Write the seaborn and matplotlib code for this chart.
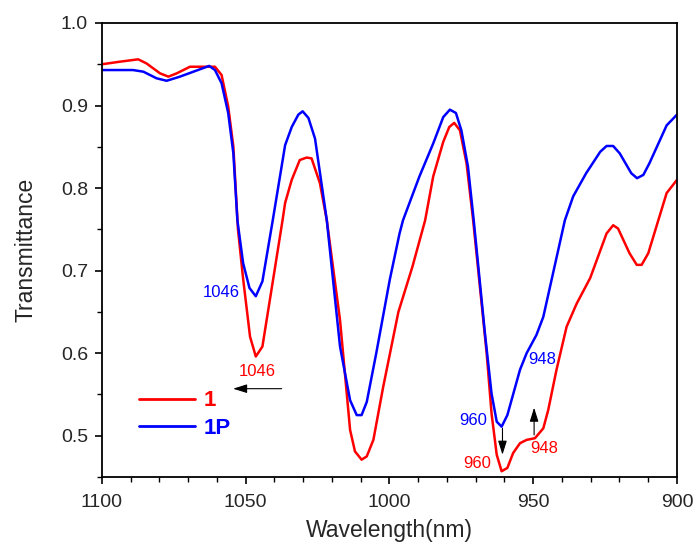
import pandas as pd
import matplotlib.pyplot as plt
import seaborn as sns

# Spectrum data
red_wl = [1100, 1094, 1087.4, 1084.5, 1079.8, 1076.9, 1074, 1069.4, 1065.9, 1060.7,
          1058.4, 1056.1, 1054.3, 1052.7, 1050.9, 1048.5, 1046.5, 1044.2, 1039.8, 1037.2,
          1036.3, 1034, 1031.2, 1028.8, 1027.1, 1024.2, 1021.8, 1017.2, 1013.7, 1012,
          1009.7, 1007.9, 1005.6, 1002.2, 996.9, 992, 987.6, 984.8, 981.3, 979.2,
          977.5, 975.5, 973.2, 970.9, 966.2, 964.5, 962.7, 961, 959, 957,
          954.6, 952.3, 949.4, 946.5, 944.8, 941.9, 938.4, 934.9, 930.2, 924.5,
          922.2, 920.5, 916.5, 914, 912.3, 910, 906.5, 903.6, 900]
red_t = [0.950, 0.953, 0.956, 0.951, 0.939, 0.935, 0.939, 0.947, 0.947, 0.947,
         0.937, 0.899, 0.850, 0.750, 0.690, 0.620, 0.596, 0.608, 0.704, 0.761,
         0.782, 0.810, 0.834, 0.837, 0.836, 0.806, 0.761, 0.640, 0.507, 0.481,
         0.471, 0.475, 0.495, 0.559, 0.650, 0.705, 0.761, 0.814, 0.856, 0.874,
         0.879, 0.870, 0.830, 0.761, 0.600, 0.527, 0.477, 0.457, 0.461, 0.479,
         0.491, 0.495, 0.497, 0.509, 0.531, 0.580, 0.632, 0.660, 0.691, 0.745,
         0.755, 0.751, 0.721, 0.707, 0.707, 0.721, 0.761, 0.794, 0.810]

blue_wl = [1100, 1089.2, 1085.6, 1081, 1077.5, 1072.9, 1068.2, 1062.7, 1060.7, 1058.4,
           1056.1, 1054.3, 1052.9, 1050.9, 1048.7, 1046.5, 1044.2, 1040.6, 1036.3, 1034,
           1031.7, 1030.2, 1028.2, 1025.9, 1021.8, 1017.2, 1013.7, 1011.4, 1009.7, 1007.9,
           1004.6, 999.9, 996.5, 995.3, 989.6, 984.8, 981.3, 979, 976.9, 975,
           972.7, 970.7, 966.8, 964.5, 962.7, 961, 959, 954.6, 952.3, 948.9,
           946.5, 943.1, 939, 936.1, 931.6, 926.7, 924.5, 922.2, 919.9, 915.9,
           913.9, 911.7, 909.6, 903.6, 900]
blue_t = [0.943, 0.943, 0.941, 0.933, 0.930, 0.935, 0.941, 0.948, 0.943, 0.927,
          0.891, 0.842, 0.761, 0.709, 0.679, 0.669, 0.687, 0.761, 0.852, 0.874,
          0.889, 0.893, 0.885, 0.860, 0.761, 0.608, 0.543, 0.525, 0.525, 0.541,
          0.600, 0.689, 0.745, 0.761, 0.814, 0.854, 0.886, 0.895, 0.891, 0.870,
          0.826, 0.761, 0.624, 0.551, 0.517, 0.511, 0.525, 0.580, 0.600, 0.622,
          0.644, 0.697, 0.761, 0.790, 0.818, 0.844, 0.851, 0.851, 0.842, 0.818,
          0.812, 0.816, 0.830, 0.876, 0.889]

sample_names = ['1', '1P']
line_colors = ['#FF0000', '#0000FF']

df = pd.concat([
    pd.DataFrame({'wavelength': red_wl, 'T': red_t, 'sample': '1'}),
    pd.DataFrame({'wavelength': blue_wl, 'T': blue_t, 'sample': '1P'}),
])

sns.set_theme(style='ticks')
plt.rcParams['font.family'] = ['Liberation Sans', 'DejaVu Sans']

fig = plt.figure(figsize=(6.97, 5.5), dpi=100)
ax = fig.add_axes([0.1463, 0.1327, 0.825, 0.8255])

sns.lineplot(data=df, x='wavelength', y='T', hue='sample', hue_order=sample_names,
             palette=dict(zip(sample_names, line_colors)), linewidth=1.8,
             estimator=None, sort=False, ax=ax)

ax.set_xlim(1100, 900)
ax.set_ylim(0.45, 1.0)
ax.set_xticks([1100, 1050, 1000, 950, 900])
ax.set_xticks(range(900, 1101, 10), minor=True)
ax.set_yticks([0.5, 0.6, 0.7, 0.8, 0.9, 1.0])
ax.set_yticks([0.45 + 0.05 * i for i in range(12)], minor=True)
ax.tick_params(which='major', direction='out', length=5, width=1.2, labelsize=14, color='black')
ax.tick_params(which='minor', direction='out', length=3.5, width=1.0, color='black')
ax.tick_params(axis='x', which='major', pad=7)
ax.tick_params(axis='y', which='major', pad=5)
for s in ax.spines.values():
    s.set_linewidth(1.3)
    s.set_color('black')

ax.set_xlabel('Wavelength(nm)', fontsize=16.5, labelpad=6)
ax.set_ylabel('Transmittance', fontsize=16.5, labelpad=17)

# peak labels
ax.text(1052, 0.673, '1046', color='blue', fontsize=12, ha='right', va='center')
ax.text(1046, 0.578, '1046', color='red', fontsize=12, ha='center', va='center')
ax.text(966, 0.519, '960', color='blue', fontsize=12, ha='right', va='center')
ax.text(964.8, 0.466, '960', color='red', fontsize=12, ha='right', va='center')
ax.text(951.8, 0.592, '948', color='blue', fontsize=12, ha='left', va='center')
ax.text(946.3, 0.485, '948', color='red', fontsize=12, ha='center', va='center')

arrow_kw = dict(arrowstyle='-|>,head_length=0.7,head_width=0.22', color='black', lw=0.8,
                shrinkA=0, shrinkB=0)
ax.annotate('', xy=(1054.4, 0.557), xytext=(1037.5, 0.557), arrowprops=arrow_kw)
ax.annotate('', xy=(960.7, 0.477), xytext=(960.7, 0.509), arrowprops=arrow_kw)
ax.annotate('', xy=(949.7, 0.534), xytext=(949.7, 0.501), arrowprops=arrow_kw)

leg = ax.legend(loc='upper left', bbox_to_anchor=(0.03, 0.235), frameon=False,
                handlelength=2.5, handletextpad=0.4, labelspacing=0.3,
                prop={'weight': 'bold', 'size': 16}, labelcolor='linecolor')
for h in leg.get_lines():
    h.set_linewidth(2)

fig.savefig('out.png', dpi=100)
